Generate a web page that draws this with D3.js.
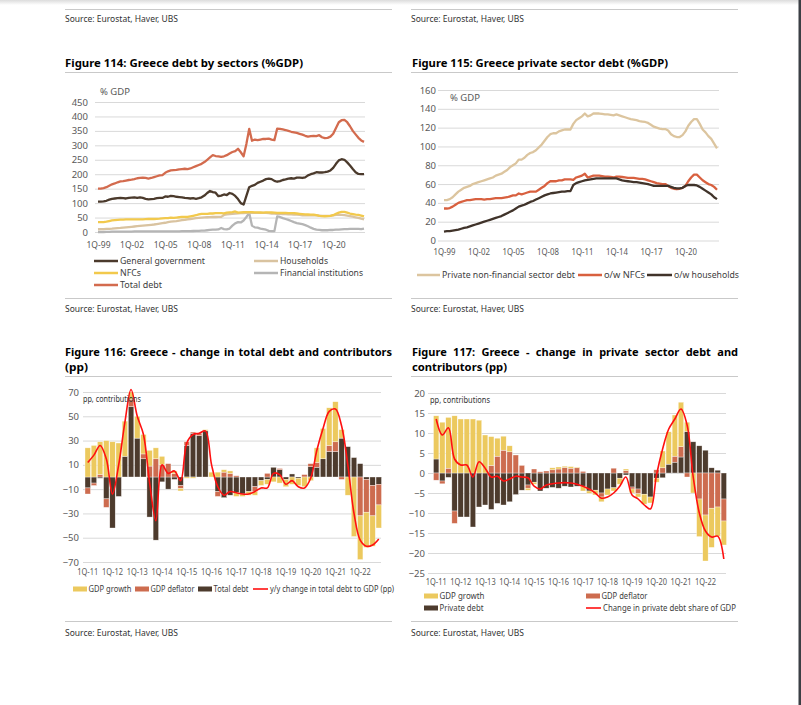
<!DOCTYPE html>
<html>
<head>
<meta charset="utf-8">
<script src="https://cdn.jsdelivr.net/npm/d3@7"></script>
<style>
  body { margin: 0; background: #fff; }
  svg { display: block; }
  text { font-family: "Noto Sans", "DejaVu Sans", sans-serif; }
</style>
</head>
<body>
<svg id="page" width="801" height="705"></svg>
<script>
// ---- data: quarterly, 1Q-99 .. 4Q-22 ----
const quarters = d3.range(96).map(i => `${i % 4 + 1}Q-${String((1999 + Math.floor(i / 4)) % 100).padStart(2, '0')}`)
const barQuarters = quarters.slice(48) // 1Q-11 .. 4Q-22

const lineTicksX = ['1Q-99', '1Q-02', '1Q-05', '1Q-08', '1Q-11', '1Q-14', '1Q-17', '1Q-20']
const barTicksX = ['1Q-11', '1Q-12', '1Q-13', '1Q-14', '1Q-15', '1Q-16', '1Q-17', '1Q-18', '1Q-19', '1Q-20', '1Q-21', '1Q-22']
const sectorTicksY = [0, 50, 100, 150, 200, 250, 300, 350, 400, 450]
const privateTicksY = [0, 20, 40, 60, 80, 100, 120, 140, 160]
const totalChangeTicksY = [-70, -50, -30, -10, 10, 30, 50, 70]
const privateChangeTicksY = [-25, -20, -15, -10, -5, 0, 5, 10, 15, 20]

// Figure 114 / 115 (% GDP)
const totalDebt = [
  150, 150, 152, 155, 160, 165, 168, 172, 175, 176, 178, 180, 181, 183, 186, 187,
  188, 187, 185, 187, 190, 193, 196, 197, 205, 210, 213, 214, 215, 217, 218, 219,
  218, 220, 224, 228, 232, 236, 242, 250, 258, 266, 263, 262, 260, 262, 266, 272,
  277, 280, 288, 276, 262, 305, 357, 316, 320, 318, 320, 322, 322, 323, 320, 318,
  358, 357, 355, 353, 350, 347, 345, 343, 340, 337, 333, 330, 332, 333, 332, 335,
  328, 325, 326, 330, 340, 360, 380, 387, 388, 380, 366, 350, 338, 326, 317, 312]
const generalGov = [
  105, 105, 106, 108, 112, 115, 116, 117, 118, 117, 116, 118, 119, 120, 118, 120,
  118, 115, 113, 114, 115, 117, 118, 118, 123, 122, 125, 124, 122, 121, 120, 118,
  117, 116, 117, 115, 117, 120, 126, 135, 142, 138, 136, 124, 126, 130, 128, 135,
  132, 125, 114, 100, 95, 125, 155, 160, 163, 170, 174, 178, 183, 185, 183, 177,
  174, 176, 180, 182, 185, 186, 185, 188, 188, 187, 189, 196, 200, 203, 207, 206,
  206, 207, 209, 213, 222, 236, 248, 252, 250, 241, 230, 218, 207, 201, 200, 200]
const nfcs = [
  34, 34, 34.5, 36, 38, 40, 41, 42, 43, 43, 43.5, 44, 44, 44, 43.5, 44,
  44, 44.5, 45, 45, 45, 45.5, 46, 47, 48, 48, 50, 49, 50, 51, 52, 52,
  52, 54, 56, 58, 61, 63, 63, 63, 64, 64, 65, 65, 65, 64.5, 67, 68,
  69, 71, 67, 68, 69, 69, 69, 68.5, 68, 68, 67.5, 67, 68, 68, 67.5, 67,
  66.5, 66.5, 66.5, 66, 65.5, 65.5, 65, 64, 63, 62, 61, 60.5, 60, 60, 58, 56,
  55, 54.5, 55, 56, 58, 63, 67, 70, 70, 67, 64, 62, 60, 59, 57, 54]
const households = [
  9.5, 10, 10, 10.5, 11, 11.5, 12.5, 13.5, 14, 15, 16, 17, 18, 19, 20, 21,
  22, 23, 24, 25, 26, 27.5, 29, 30.5, 32, 34, 36, 37, 38, 39.5, 41, 42,
  43.5, 45, 46.5, 48, 49, 50, 50.5, 51, 51.5, 52, 52, 52.5, 52.5, 59, 61, 62,
  63, 64, 64.5, 65, 65.5, 66, 66, 66, 66, 66, 66, 66, 66, 65, 64, 63.5,
  63, 62.5, 62, 62, 61.5, 61, 60.5, 60, 59, 58, 58, 58, 58, 58, 58, 57,
  56, 55.5, 55.5, 56, 58, 59, 59, 59, 58.5, 57, 55, 53, 51, 49, 46, 44]
const financial = [
  0, 0, 0, 0.5, 0.5, 1, 1, 1, 1, 1, 1.5, 1.5, 1.5, 2, 2, 2,
  2, 2, 2, 2, 2, 2, 2, 2, 2, 2, 2, 2.5, 2.5, 2.5, 3, 3,
  3, 3, 3.5, 4, 4, 5, 5, 6, 7, 8, 8, 9, 14, 10, 9, 12,
  22, 30, 34, 33, 40, 52, 66, 22, 16, 15, 12, 10, 8, 4, 3, 3,
  54, 52, 48, 45, 42, 38, 34, 31, 29, 27, 24, 20, 15, 11, 8, 7,
  6, 6, 6, 7, 7, 8, 8, 9, 10, 10, 11, 11, 11, 11, 10, 12]
const privateNonFin = [
  43, 43, 44, 46, 49, 52, 54, 56, 57, 58, 60, 61, 62, 63, 64, 65,
  66, 67, 69, 70, 71, 73, 75, 78, 80, 82, 86, 86, 88, 91, 93, 94,
  96, 99, 102, 106, 110, 113, 114, 114, 116, 117, 118, 118, 118, 124, 128, 130,
  132, 135, 132, 133, 135, 135, 135, 134.5, 134, 134, 133.5, 133, 134, 133, 132, 131,
  130, 129, 128.5, 128, 127, 126.5, 126, 125, 123, 121, 120, 119, 118.5, 118.5, 117, 113,
  111, 110, 110, 112, 116, 122, 126, 129, 129, 124, 118, 115, 111, 108, 103, 98]

// Figure 116 (pp), 1Q-11 .. 4Q-22
const totalDebtChange = [
  -9, -5, -1, -18, -42, -16, 17, 58, 32, 15, -33, -52, -4, -10, -2, -7,
  26, 36, 34, 38, 0, -12, -17, -15, -13, -14, -12, -8, -3, -2, 8, 6,
  -2, 2.5, -1, 0, 8.5, 8, 15, 21, 21, 32, 25, 16, 11, -2, -7, -6]
const totalDeflator = [
  -5, -2, 2, -7, 0, 0, 0, 6, 0, 4, 9, 15, 10, 11, 3, -2.5,
  3, 1, 2, 0, 0, -4, 4, 3, 1, 0, 0, -4, 0, 3, 0, 1,
  0, 0, 0, 2, 2.5, 4, 0, 5, 8, -2, 0, 0, -32, -27, -25, -17]
const totalGrowth = [
  24, 26, 27, 30, 29, 28, 29, 6, 18, 16, 13, 9, 7, 0, 2, -2,
  -1, -1, 0, 1, 4, 4, 2, 2, -3, -2, -3, -3, -4, -4, -4, -5,
  -6, -6, -6, -8, -3, 12, 25, 31, 33, 7, -15, -49, -36, -29, -25, -19]
const totalDebtToGdp = [
  12, 18, 26, 15, -14, 10, 45, 72, 50, 35, -5, -36, 10, 3, 5, -3,
  28, 35, 36, 38, 10, -8, -15, -12, -13, -14, -14, -12, -9, -9, 3, 2,
  -6, -3, -8, -9, -1, 22, 40, 54, 56, 42, 10, -30, -52, -57, -56, -51]

// Figure 117 (pp), 1Q-11 .. 4Q-22
const privateDebtChange = [
  3.5, -2, -1.1, -9.5, -11, -11, -13.5, -8.5, -8, -9.1, -7.6, -8, -7.2, -5.4, -4.3, -3,
  -2.3, -4.5, -3.8, -3.6, -3.8, -3.3, -3.5, -3.3, -3.3, -4.5, -4.3, -5, -4, -3.7, -1.3, -0.5,
  -3.5, -4, -5.3, -6, -1.3, -1.2, 2.2, 2.7, 4, 10.4, 7.8, 6.8, 5.7, 1.3, 0.7, -6.5]
const privateDeflator = [
  -1.8, -0.7, 1.2, -3.1, 0, 0, 0, 0, 0, 1.9, 4.2, 5.7, 5.3, 4.5, 1.9, -0.8,
  1, 0.3, 0.5, 0.8, 1, 1.4, 1.2, 1.3, 0.4, 0, 0, -1, 0, 1.2, 0, 0.6,
  -0.5, -1.2, 0, 0, 0.8, 1.3, 0, 1.5, 2.6, -1, 0, -6.5, -10.5, -8.8, -8.5, -5.5]
const privateGrowth = [
  10.8, 12.7, 12.7, 14.3, 13.5, 13.5, 13.5, 13.2, 9.5, 7.2, 4.5, 3.5, 1.5, 0, 0, -0.5,
  -0.5, 0, 0, 0.5, 0.5, 0.3, 0.4, 0.2, -1.2, -0.6, -1.2, -1.2, -1.5, -0.8, -1.5, 0.4,
  -1, -0.8, -2.5, -1.5, -1, 4.2, 8.1, 10.3, 11.1, 2.3, -5, -9.4, -11.5, -9.8, -7.3, -6]
const privateShareChange = [
  13.5, 9.5, 11.3, 3.5, 2, 2, -1, 2.8, 1.2, -1, -0.8, -2, -1.5, -0.8, -1, -1.2,
  -3.3, -4, -3, -2.7, -2.5, -2.4, -2.5, -2.8, -3.3, -4, -5, -6.3, -6, -5, -3.3, -1,
  -5.5, -6.5, -8, -9, -0.5, 6, 11, 13.5, 16, 12, -1, -10, -14.5, -16, -15.8, -21.5]

// ---- page ----
const svg = d3.select('#page')
const defs = svg.append('defs')
const topShade = defs.append('linearGradient').attr('id', 'topShade').attr('x1', 0).attr('y1', 0).attr('x2', 0).attr('y2', 1)
topShade.append('stop').attr('offset', 0).attr('stop-color', '#dcdcdc')
topShade.append('stop').attr('offset', 1).attr('stop-color', '#ffffff')
svg.append('rect').attr('width', 801).attr('height', 705).attr('fill', '#fff')
svg.append('rect').attr('width', 801).attr('height', 5).attr('fill', 'url(#topShade)')
svg.append('rect').attr('x', 798.5).attr('width', 2.5).attr('height', 705).attr('fill', '#3b3f44')

const TICK = '#595959'
const LEGEND = '#404040'

const fit = (sel, w) => sel.attr('textLength', w).attr('lengthAdjust', 'spacingAndGlyphs')

const rule = (x1, x2, y) => svg.append('line')
  .attr('x1', x1).attr('x2', x2).attr('y1', y).attr('y2', y)
  .attr('stroke', '#c9c9c9').attr('stroke-width', 1)

const source = (x, y) => fit(svg.append('text').attr('x', x).attr('y', y)
  .attr('font-size', 8.5).attr('fill', '#333').text('Source: Eurostat, Haver, UBS'), 113)

const title = (x, y, str, w) => fit(svg.append('text').attr('x', x).attr('y', y)
  .attr('font-size', 11).attr('font-weight', 'bold').attr('fill', '#000').text(str), w)

// justified title line: widen the gaps between words instead of the letters
const justifiedTitle = (x, y, str, w) => {
  const t = svg.append('text').attr('x', x).attr('y', y)
    .attr('font-size', 11).attr('font-weight', 'bold').attr('fill', '#000').text(str)
  const natural = t.node().getComputedTextLength()
  const gaps = str.split(' ').length - 1
  if (natural < w && gaps > 0) t.attr('word-spacing', (w - natural) / gaps)
  else fit(t, w)
}

;[[65, 392], [411, 738]].forEach(([a, b]) => {
  rule(a, b, 9.5); rule(a, b, 72.5); rule(a, b, 298.5); rule(a, b, 376.5); rule(a, b, 621.5)
})
;[[65, 22], [411, 22], [65, 312], [411, 312], [65, 636], [411, 636]].forEach(([x, y]) => source(x, y))

title(65, 67, 'Figure 114: Greece debt by sectors (%GDP)', 238)
title(412, 67, 'Figure 115: Greece private sector debt (%GDP)', 256)
justifiedTitle(65, 356, 'Figure 116: Greece - change in total debt and contributors', 327)
title(65, 371, '(pp)', 23)
justifiedTitle(412, 356, 'Figure 117: Greece - change in private sector debt and', 326)
title(412, 371, 'contributors (pp)', 95)

// ---- shared axis drawing ----
function drawAxes(g, { x, y, yTicks, xTicks, gridX, tickX, labelY, xLabelW }) {
  g.append('g')
    .attr('transform', `translate(${gridX[0]},0)`)
    .call(d3.axisLeft(y).tickValues(yTicks).tickSize(-(gridX[1] - gridX[0])).tickPadding(gridX[0] - tickX))
    .call(a => a.select('.domain').remove())
    .call(a => a.selectAll('line').attr('stroke', '#d9d9d9'))
    .call(a => a.selectAll('text').attr('fill', TICK).attr('font-size', 9.5).attr('font-family', null))
  g.append('g')
    .attr('transform', `translate(0,${labelY})`)
    .call(d3.axisBottom(x).tickValues(xTicks).tickSize(0).tickPadding(0))
    .call(a => a.select('.domain').remove())
    .call(a => a.selectAll('text').attr('fill', TICK).attr('font-size', 9).attr('font-family', null)
      .attr('dy', '0.35em').attr('textLength', xLabelW).attr('lengthAdjust', 'spacingAndGlyphs'))
}

function legendLine(g, x, y, w, color, label, textW, width = 2.5) {
  g.append('line').attr('x1', x).attr('x2', x + w).attr('y1', y).attr('y2', y)
    .attr('stroke', color).attr('stroke-width', width)
  fit(g.append('text').attr('x', x + w + 2).attr('y', y).attr('dy', '0.35em')
    .attr('font-size', 9.5).attr('fill', LEGEND).text(label), textW)
}
function legendBox(g, x, y, w, color, label, textW) {
  g.append('rect').attr('x', x).attr('y', y - 2.5).attr('width', w).attr('height', 5).attr('fill', color)
  fit(g.append('text').attr('x', x + w + 1.5).attr('y', y).attr('dy', '0.35em')
    .attr('font-size', 9).attr('fill', LEGEND).text(label), textW)
}

// ---- line charts ----
function lineChart({ series, yDomain, yTicks, xRange, yRange, gridX, tickX, labelY, xLabelW, unitPos }) {
  const g = svg.append('g')
  const x = d3.scalePoint().domain(quarters).range(xRange)
  const y = d3.scaleLinear().domain(yDomain).range(yRange)
  drawAxes(g, { x, y, yTicks, xTicks: lineTicksX, gridX, tickX, labelY, xLabelW })
  g.append('text').attr('x', unitPos[0]).attr('y', unitPos[1]).attr('font-size', 9.5)
    .attr('fill', TICK).text('% GDP')
  const line = d3.line().x((d, i) => x(quarters[i])).y(d => y(d))
  series.forEach(s => {
    g.append('path').datum(s.values).attr('d', line).attr('fill', 'none')
      .attr('stroke', s.color).attr('stroke-width', 2.3).attr('stroke-linejoin', 'round')
  })
  return g
}

const C = {
  total: '#d36b4e', gov: '#4b3a2c', hh: '#d9c3a0', nfc: '#f2c94c', fin: '#b5b5b5',
  pnf: '#dcc59f', nfcRed: '#d8603f', hhDark: '#40332a',
  growth: '#ecc95e', deflator: '#cd6c4f', debt: '#4d3b2d', red: '#ff1010'
}

const g114 = lineChart({
  series: [
    { values: financial, color: C.fin },
    { values: households, color: C.hh },
    { values: nfcs, color: C.nfc },
    { values: generalGov, color: C.gov },
    { values: totalDebt, color: C.total }
  ],
  yDomain: [0, 450], yTicks: sectorTicksY, xRange: [98, 364], yRange: [232, 102],
  gridX: [95, 365], tickX: 88, labelY: 245, xLabelW: 24, unitPos: [100, 95]
})
legendLine(g114, 94, 261, 24, C.gov, 'General government', 85)
legendLine(g114, 254, 261, 24, C.hh, 'Households', 48)
legendLine(g114, 94, 273, 24, C.nfc, 'NFCs', 21)
legendLine(g114, 254, 273, 24, C.fin, 'Financial institutions', 83)
legendLine(g114, 94, 285, 24, C.total, 'Total debt', 42)

const g115 = lineChart({
  series: [
    { values: privateNonFin, color: C.pnf },
    { values: nfcs, color: C.nfcRed },
    { values: households, color: C.hhDark }
  ],
  yDomain: [0, 160], yTicks: privateTicksY, xRange: [444, 717], yRange: [240.5, 90],
  gridX: [438, 719], tickX: 436, labelY: 252, xLabelW: 22, unitPos: [450, 101]
})
legendLine(g115, 417, 275, 23, C.pnf, 'Private non-financial sector debt', 133)
legendLine(g115, 578, 275, 24, C.nfcRed, 'o/w NFCs', 41)
legendLine(g115, 647, 275, 25, C.hhDark, 'o/w households', 65)

// ---- stacked bar charts ----
function barChart({ debt, deflator, growth, change, yDomain, yTicks, xRange, yRange, gridX, tickX, labelY, unitPos, unitW }) {
  const g = svg.append('g')
  const x = d3.scaleBand().domain(barQuarters).range(xRange).paddingInner(0.12)
  const y = d3.scaleLinear().domain(yDomain).range(yRange)
  drawAxes(g, { x, y, yTicks, xTicks: barTicksX, gridX, tickX, labelY, xLabelW: 21 })
  const rows = barQuarters.map((q, i) => ({ q, debt: debt[i], deflator: deflator[i], growth: growth[i] }))
  const stack = d3.stack().keys(['debt', 'deflator', 'growth']).offset(d3.stackOffsetDiverging)(rows)
  g.append('g').selectAll('g').data(stack).join('g')
    .attr('fill', s => C[s.key])
    .selectAll('rect').data(s => s).join('rect')
    .attr('x', d => x(d.data.q)).attr('width', x.bandwidth())
    .attr('y', d => y(Math.max(d[0], d[1])))
    .attr('height', d => Math.abs(y(d[0]) - y(d[1])))
    .attr('stroke', 'rgba(255,255,255,0.7)').attr('stroke-width', 0.5)
  const line = d3.line().curve(d3.curveCatmullRom.alpha(0.5))
    .x((d, i) => x(barQuarters[i]) + x.bandwidth() / 2).y(d => y(d))
  g.append('path').datum(change).attr('d', line).attr('fill', 'none')
    .attr('stroke', C.red).attr('stroke-width', 1.6)
  fit(g.append('text').attr('x', unitPos[0]).attr('y', unitPos[1]).attr('font-size', 8.5)
    .attr('fill', '#333').text('pp, contributions'), unitW)
  return g
}

const g116 = barChart({
  debt: totalDebtChange, deflator: totalDeflator, growth: totalGrowth, change: totalDebtToGdp,
  yDomain: [-70, 70], yTicks: totalChangeTicksY, xRange: [85, 381.5], yRange: [562, 392],
  gridX: [83, 381], tickX: 79, labelY: 572, unitPos: [83, 402], unitW: 58
})
legendBox(g116, 73, 589, 14, C.growth, 'GDP growth', 43)
legendBox(g116, 135, 589, 14, C.deflator, 'GDP deflator', 44)
legendBox(g116, 198, 589, 14, C.debt, 'Total debt', 35)
legendLine(g116, 253, 589, 15, C.red, 'y/y change in total debt to GDP (pp)', 124, 1.6)
g116.selectAll('text').filter(function () { return this.textContent.startsWith('y/y') }).attr('font-size', 9)

const g117 = barChart({
  debt: privateDebtChange, deflator: privateDeflator, growth: privateGrowth, change: privateShareChange,
  yDomain: [-25, 20], yTicks: privateChangeTicksY, xRange: [433.5, 726.5], yRange: [573, 393],
  gridX: [428, 726], tickX: 425, labelY: 582, unitPos: [430, 403], unitW: 60
})
legendBox(g117, 424, 596, 14, C.growth, 'GDP growth', 45)
legendBox(g117, 586, 596, 14, C.deflator, 'GDP deflator', 46)
legendBox(g117, 424, 608, 14, C.debt, 'Private debt', 44)
legendLine(g117, 586, 608, 15, C.red, 'Change in private debt share of GDP', 133, 1.6)
</script>
</body>
</html>
